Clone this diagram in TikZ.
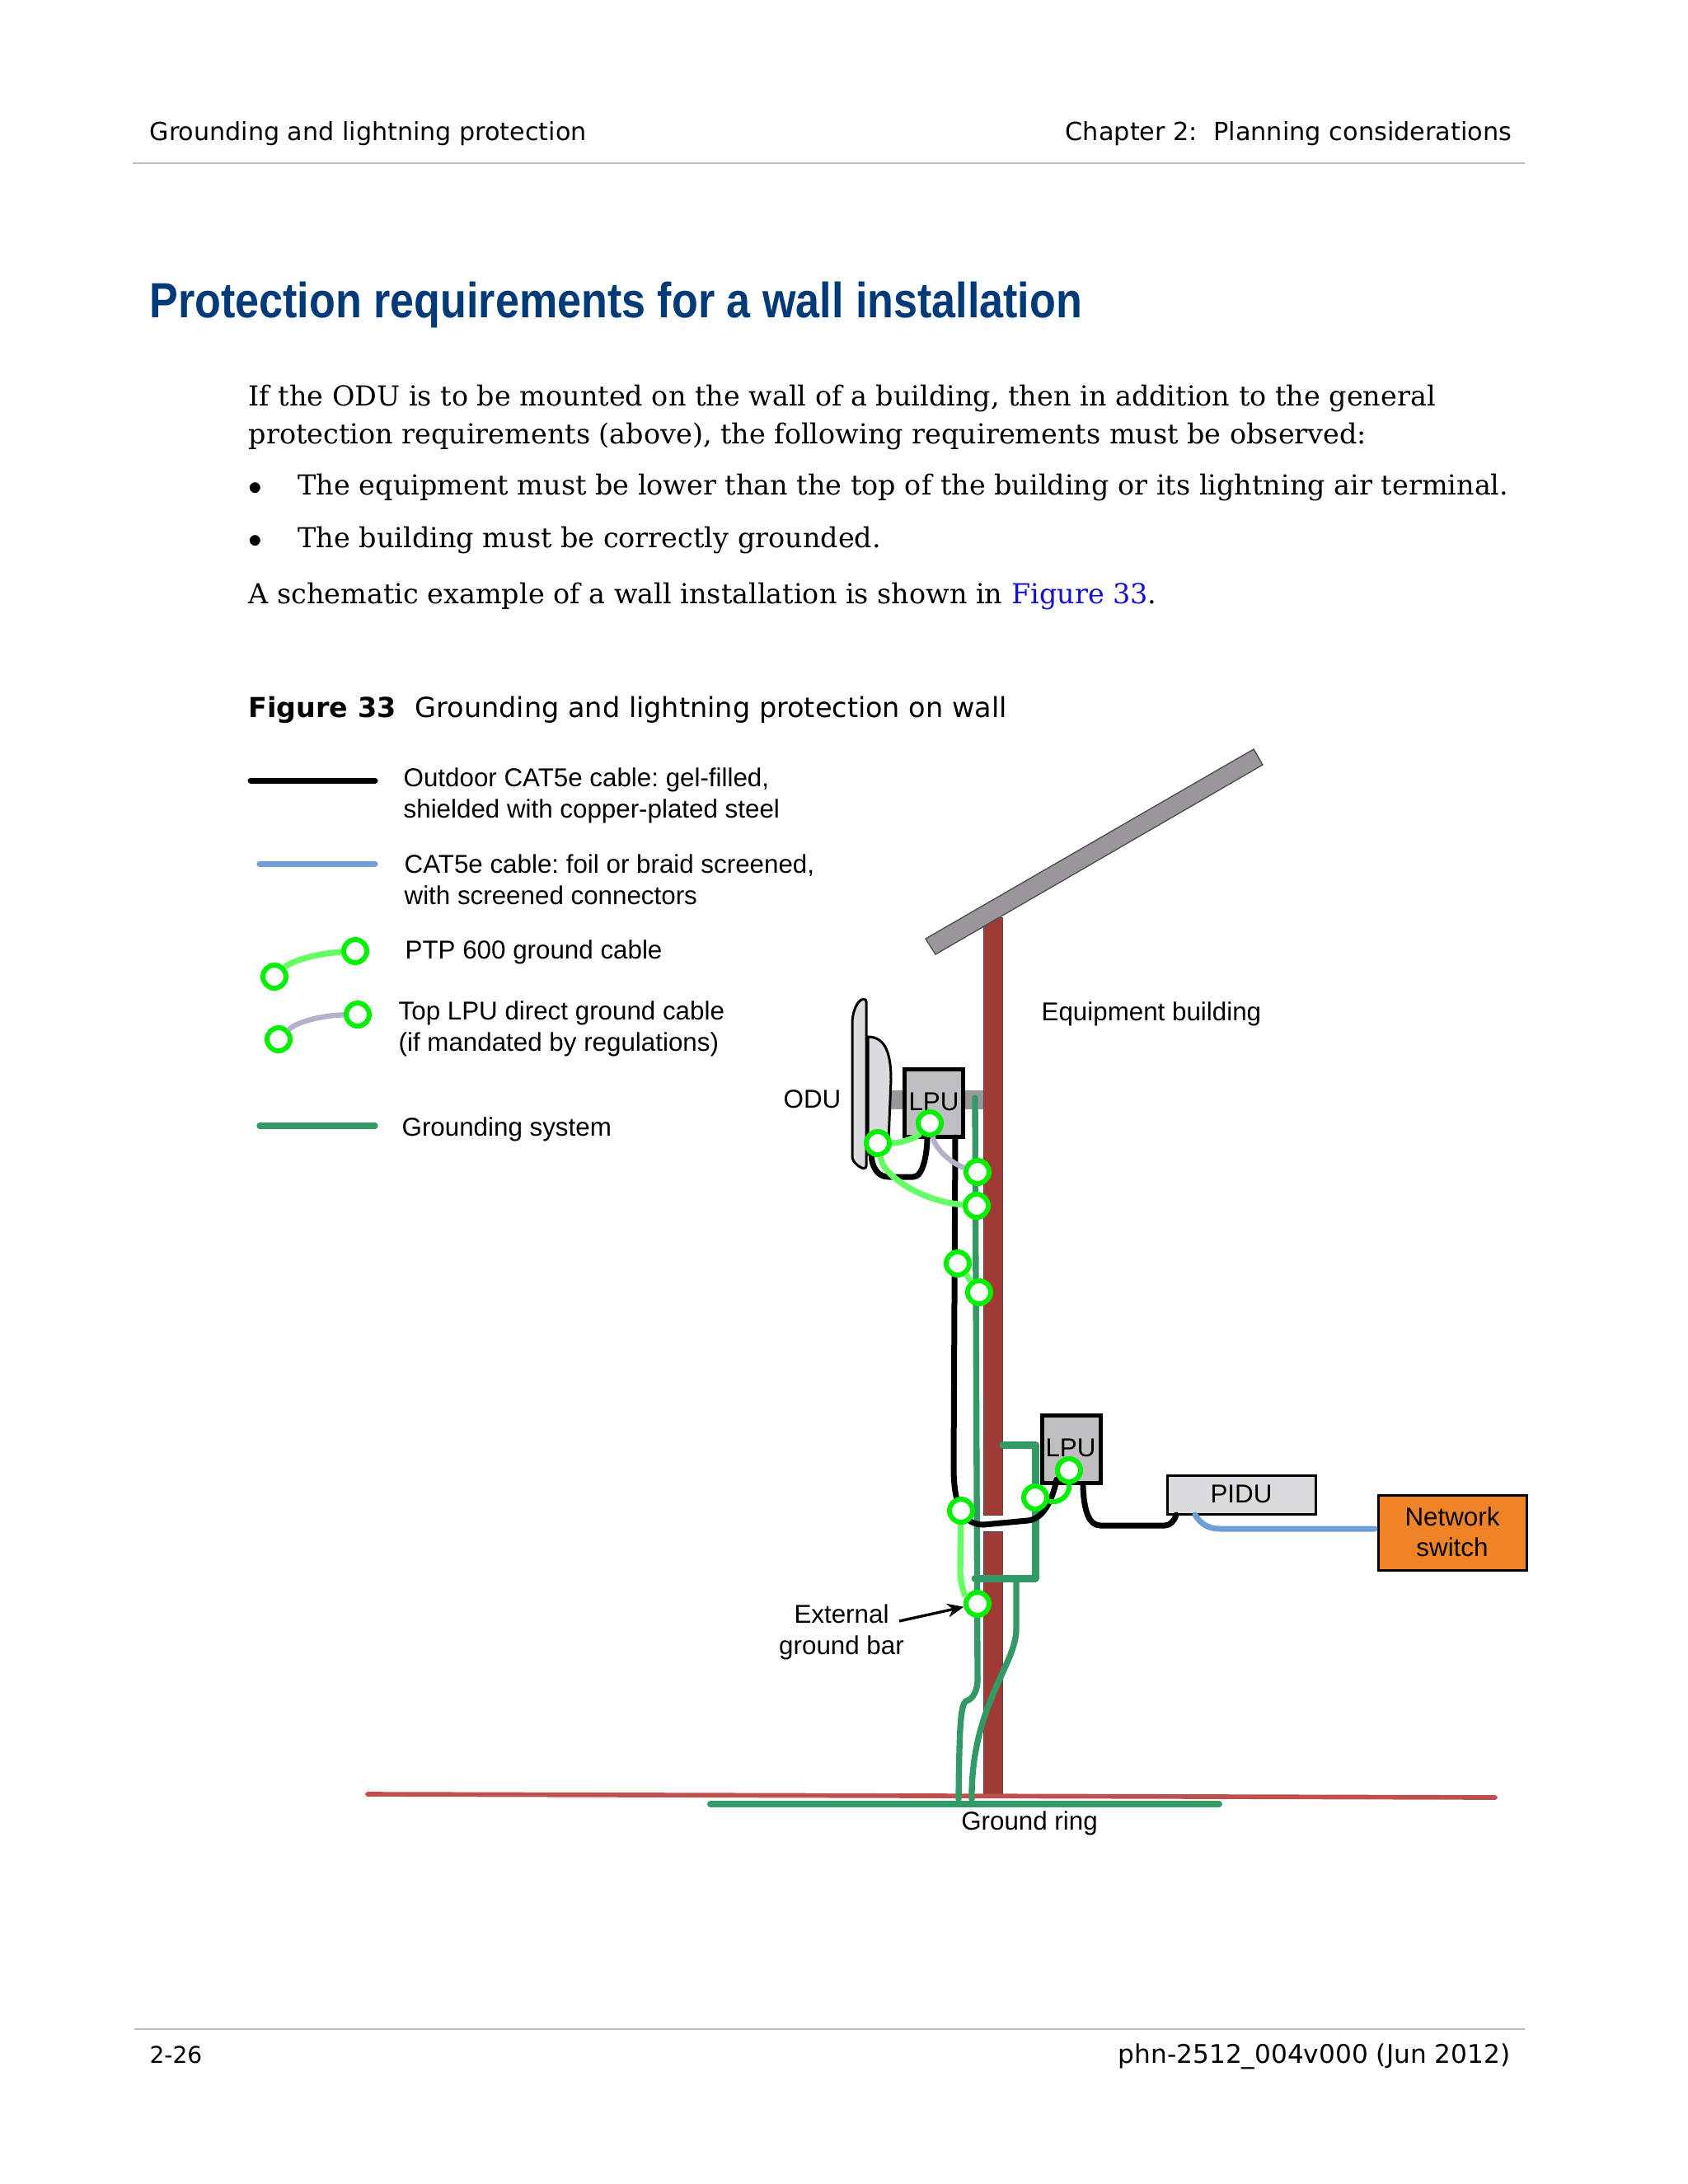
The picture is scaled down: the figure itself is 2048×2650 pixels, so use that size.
\documentclass[tikz,border=0pt]{standalone}
\usepackage{fontspec}
\setmainfont{Liberation Sans}
\newfontfamily\bodyface{DejaVu Serif}
\newfontfamily\pageface{DejaVu Sans}
\usetikzlibrary{arrows.meta,calc}
\frenchspacing
\definecolor{wall_red}{HTML}{A03A35}
\definecolor{roof_grey}{HTML}{999799}
\definecolor{box_grey}{HTML}{BFBEC0}
\definecolor{pale_grey}{HTML}{DBDADD}
\definecolor{grd_green}{HTML}{339966}
\definecolor{ptp_green}{HTML}{66FF66}
\definecolor{lug_green}{HTML}{00F000}
\definecolor{lpu_mauve}{HTML}{B8AFCC}
\definecolor{cat_blue}{HTML}{6F9FD8}
\definecolor{soil_red}{HTML}{C0504D}
\definecolor{sw_orange}{HTML}{F08325}
\definecolor{head_blue}{HTML}{003A78}
\definecolor{link_blue}{HTML}{1010D0}
\tikzset{
  labelnode/.style = {inner sep=0pt, font=\fontsize{9.4}{11.4}\selectfont, align=left},
  headnode/.style = {inner sep=0pt, font=\pageface\fontsize{9.05}{11}\selectfont},
  textnode/.style = {inner sep=0pt, font=\bodyface\fontsize{10.03}{13.8}\selectfont, align=left, anchor=base west},
  lpu_n/.style = {draw=black, line width=1.5pt, fill=box_grey, inner sep=0pt, minimum width=21.3pt, minimum height=24.6pt},
  lug_n/.style = {circle, draw=lug_green, line width=1.8pt, fill=white, inner sep=0pt, minimum size=8.4pt},
  cat_out/.style = {black, line width=2.1pt, line cap=round},
  cat_in/.style = {cat_blue, line width=2.1pt, line cap=round},
  ptp_c/.style = {ptp_green, line width=2.2pt},
  lpu_c/.style = {lpu_mauve, line width=1.9pt},
  grd_c/.style = {grd_green, line width=2.2pt, line cap=round},
  grd_w/.style = {grd_green, line width=2.7pt, line cap=round, line join=round}
}
\begin{document}
\begin{tikzpicture}[x=0.3pt,y=-0.3pt]
	\useasboundingbox (0,0) rectangle (2048,2650);
	% page furniture
	\node [headnode, anchor=base west] (head_l) at (181,170) {Grounding and lightning protection};
	\node [headnode, anchor=base east, font=\pageface\fontsize{9.1}{11}\selectfont] (head_r) at (1835,170) {Chapter 2:\ \ Planning considerations};
	\draw [black!25, line width=0.6pt] (161,198) -- (1850,198);
	\node [inner sep=0pt, anchor=base west, xscale=0.868, transform shape, text=head_blue, font=\bfseries\fontsize{18}{22}\selectfont] (title) at (181,385) {Protection requirements for a wall installation};
	\node [textnode] (para_a) at (301,538) {If the ODU is to be mounted on the wall of a building, then in addition to the general\\protection requirements (above), the following requirements must be observed:};
	\node [textnode] (dot_a) at (301,600) {$\bullet$};
	\node [textnode] (item_a) at (361,600) {The equipment must be lower than the top of the building or its lightning air terminal.};
	\node [textnode] (dot_b) at (301,664) {$\bullet$};
	\node [textnode] (item_b) at (361,664) {The building must be correctly grounded.};
	\node [textnode] (para_b) at (301,732) {A schematic example of a wall installation is shown in \textcolor{link_blue}{Figure 33}.};
	\node [headnode, anchor=base west, font=\pageface\bfseries\fontsize{10}{12}\selectfont] (fig_no) at (301,870) {Figure 33};
	\node [headnode, anchor=base west, font=\pageface\fontsize{10.05}{12}\selectfont] (fig_cap) at (503,870) {Grounding and lightning protection on wall};
	\draw [black!25, line width=0.6pt] (163,2462) -- (1850,2462);
	\node [headnode, anchor=base west, font=\pageface\fontsize{8.4}{11}\selectfont] (foot_l) at (181,2503) {2-26};
	\node [headnode, anchor=base east, font=\pageface\fontsize{9.36}{11}\selectfont] (foot_r) at (1833,2503) {phn-2512\_004v000 (Jun 2012)};
	% legend
	\coordinate (leg_a1) at (304,947);
	\coordinate (leg_a2) at (455,947);
	\coordinate (leg_b1) at (315,1048);
	\coordinate (leg_b2) at (455,1048);
	\coordinate (leg_e1) at (315,1366);
	\coordinate (leg_e2) at (455,1366);
	\draw [cat_out] (leg_a1) -- (leg_a2);
	\draw [cat_in] (leg_b1) -- (leg_b2);
	\draw [grd_c] (leg_e1) -- (leg_e2);
	\node [lug_n] (leg_c1) at (333,1185) {};
	\node [lug_n] (leg_c2) at (431,1154) {};
	\node [lug_n] (leg_d1) at (338,1261) {};
	\node [lug_n] (leg_d2) at (434,1231) {};
	\draw [ptp_c] (leg_c1) .. controls (355,1165) and (385,1157) .. (leg_c2);
	\draw [lpu_c] (leg_d1) .. controls (360,1240) and (390,1232) .. (leg_d2);
	\node [labelnode, anchor=west] (leg_a) at (489,965.5) {Outdoor CAT5e cable: gel-filled,\\shielded with copper-plated steel};
	\node [labelnode, anchor=west] (leg_b) at (490,1067) {CAT5e cable: foil or braid screened,\\with screened connectors};
	\node [labelnode, anchor=base west] (leg_c) at (491,1163) {PTP 600 ground cable};
	\node [labelnode, anchor=west] (leg_d) at (483,1248) {Top LPU direct ground cable\\(if mandated by regulations)};
	\node [labelnode, anchor=base west] (leg_e) at (487,1378) {Grounding system};
	% building
	\fill [wall_red, draw=black!70, line width=0.3pt] (1193,1113) rectangle (1216,1838);
	\fill [wall_red, draw=black!70, line width=0.3pt] (1193,1858) rectangle (1216,2176);
	\filldraw [fill=roof_grey, draw=black!70, line width=0.4pt] (1521,909) -- (1532,928) -- (1135,1158) -- (1123,1139) -- cycle;
	\fill [roof_grey] (1081,1323) rectangle (1193,1346);
	\draw [soil_red, line width=1.7pt, line cap=round] (446,2177) -- (1814,2181);
	\draw [grd_c, line width=2.4pt] (862,2189) -- (1479,2189);
	% odu
	\filldraw [fill=pale_grey, draw=black, line width=0.9pt, rounded corners=1pt] (1051,1212) .. controls (1040,1213) and (1034,1228) .. (1034,1245) -- (1034,1400) .. controls (1034,1410) and (1043,1417) .. (1051,1418) -- cycle;
	\filldraw [fill=pale_grey, draw=black, line width=0.9pt] (1053,1258) .. controls (1075,1258) and (1081,1280) .. (1081,1310) -- (1078,1385) -- (1053,1400) -- cycle;
	\node [labelnode, anchor=base east] (odu_lb) at (1021,1344) {ODU};
	\node [labelnode, anchor=base west] (bld_lb) at (1263,1238) {Equipment building};
	% ground conductors
	\draw [grd_c] (1183,1332) -- (1186,2033) .. controls (1187,2052) and (1180,2062) .. (1172,2064) .. controls (1165,2068) and (1164,2100) .. (1163,2183);
	\draw [grd_w] (1217,1753) -- (1256,1753) -- (1256,1915) -- (1183,1915);
	\draw [grd_c] (1233,1917) -- (1233,1977) .. controls (1233,2020) and (1178,2070) .. (1179,2183);
	% units
	\node [lpu_n] (lpu_top) at (1132.5,1338) {};
	\node [lpu_n] (lpu_low) at (1299.5,1758.5) {};
	\node [labelnode, anchor=base] (lpu_top_lb) at (1133,1347) {LPU};
	\node [labelnode, anchor=base] (lpu_low_lb) at (1299,1767) {LPU};
	\node [draw=black, line width=0.9pt, fill=pale_grey, inner sep=0pt, minimum width=54pt, minimum height=14.1pt, font=\fontsize{9.4}{11}\selectfont] (pidu) at (1506,1813.5) {\raisebox{0.5pt}{PIDU}};
	\node [draw=black, line width=0.9pt, fill=sw_orange, inner sep=0pt, minimum width=54pt, minimum height=27.3pt, align=center, font=\fontsize{9.4}{11.2}\selectfont] (netsw) at (1762,1859.5) {\raisebox{0.6pt}{Network}\\\raisebox{0.6pt}{switch}};
	% cables
	\coordinate (odu_tail) at (1057,1398);
	\coordinate (top_tail) at (1125,1379);
	\coordinate (top_drop) at (1159,1380);
	\coordinate (low_in) at (1282,1795);
	\coordinate (low_out) at (1314,1803);
	\coordinate (pidu_in) at (1427,1838);
	\coordinate (pidu_out) at (1450,1838);
	\coordinate (sw_in) at (1668,1855);
	\draw [cat_out] (odu_tail) .. controls (1057,1415) and (1064,1428) .. (1078,1428) -- (1108,1428) .. controls (1120,1428) and (1125,1400) .. (top_tail);
	\draw [cat_out] (top_drop) -- (1157,1780) .. controls (1157,1830) and (1170,1850) .. (1193,1850) -- (1247,1845) .. controls (1268,1843) and (1278,1815) .. (low_in);
	\draw [cat_out] (low_out) .. controls (1315,1835) and (1322,1851) .. (1335,1851) -- (1413,1851) .. controls (1420,1851) and (1425,1845) .. (pidu_in);
	\draw [cat_in] (pidu_out) .. controls (1456,1848) and (1465,1855) .. (1480,1855) -- (sw_in);
	% lugs
	\node [lug_n] (lug_a) at (1128,1363) {};
	\node [lug_n] (lug_b) at (1065,1387) {};
	\node [lug_n] (lug_c) at (1186,1422) {};
	\node [lug_n] (lug_d) at (1185,1463) {};
	\node [lug_n] (lug_e) at (1162,1533) {};
	\node [lug_n] (lug_f) at (1188,1568) {};
	\node [lug_n] (lug_g) at (1166,1833) {};
	\node [lug_n] (lug_h) at (1186,1946) {};
	\node [lug_n] (lug_i) at (1256,1817) {};
	\node [lug_n] (lug_j) at (1297,1784) {};
	\draw [ptp_c] (lug_b) .. controls (1095,1387) and (1112,1380) .. (lug_a);
	\draw [ptp_c] (lug_b) .. controls (1072,1428) and (1120,1458) .. (lug_d);
	\draw [lpu_c] (lug_a) .. controls (1135,1395) and (1155,1412) .. (lug_c);
	\draw [ptp_c] (lug_e) -- (lug_f);
	\draw [ptp_c] (lug_g) -- (1165,1905) .. controls (1165,1925) and (1172,1938) .. (lug_h);
	\draw [lug_green, line width=1.8pt] (lug_i) .. controls (1285,1825) and (1298,1815) .. (lug_j);
	% ground bar and ring labels
	\node [labelnode, align=center, anchor=center] (bar_lb) at (1021,1980) {External\\ground bar};
	\coordinate (bar_tail) at (1091,1967);
	\draw [black, line width=1pt, -{Stealth[length=6pt,width=5pt]}] (bar_tail) -- (lug_h);
	\node [labelnode, anchor=base] (ring_lb) at (1249,2220) {Ground ring};
\end{tikzpicture}
\end{document}
